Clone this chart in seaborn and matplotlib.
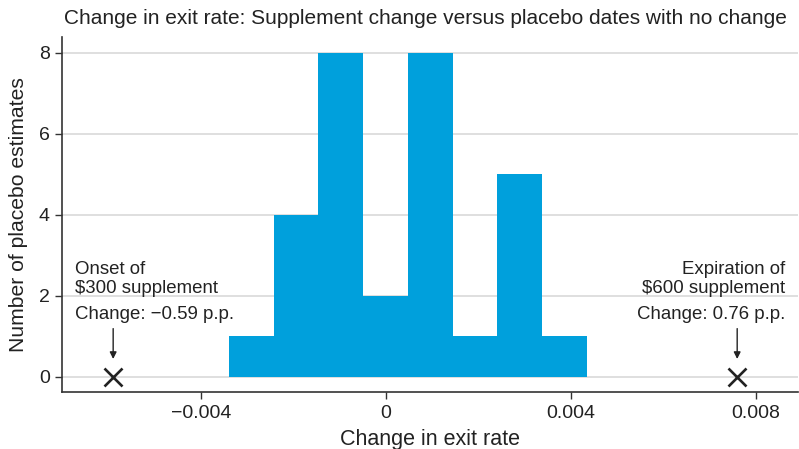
import numpy as np
import pandas as pd
import matplotlib
matplotlib.use('Agg')
import matplotlib.pyplot as plt
import seaborn as sns

# histogram of placebo estimates
bin_lo, bin_hi, n_bins = -0.0034, 0.00435, 8
counts = [1, 4, 8, 2, 8, 1, 5, 1]

# actual supplement changes
event_x = [-0.0059, 0.0076]
event_y = [0, 0]
event_text = ['Onset of\n$300 supplement', 'Expiration of\n$600 supplement']
event_change = ['Change: \u22120.59 p.p.', 'Change: 0.76 p.p.']

x_ticks = [-0.004, 0, 0.004, 0.008]
x_labels = ['\u22120.004', '0', '0.004', '0.008']
y_ticks = [0, 2, 4, 6, 8]

BLUE = '#00A0DC'
DARK = '#333333'
INK = '#222222'

sns.set_style('white')
plt.rcParams['font.family'] = ['Liberation Sans', 'DejaVu Sans']
plt.rcParams['font.size'] = 14

edges = np.linspace(bin_lo, bin_hi, n_bins + 1)
df = pd.DataFrame({'x': (edges[:-1] + edges[1:]) / 2, 'n': counts})

fig = plt.figure(figsize=(7.99, 4.49), dpi=100)
ax = fig.add_axes([0.078, 0.126, 0.921, 0.791])

ax.yaxis.grid(True, color='#D9D9D9', lw=1.2, zorder=0)
ax.set_axisbelow(True)

sns.histplot(data=df, x='x', weights='n', bins=edges.tolist(), color=BLUE, alpha=1,
             linewidth=0, ax=ax, zorder=2)

ax.plot(event_x, event_y, ls='none', marker='x', ms=12.5, mew=1.9,
        color=INK, zorder=3)

# annotations
ax.text(-0.00673, 2.08, event_text[0], ha='left', va='baseline',
        fontsize=13.4, color=INK, linespacing=1.14)
ax.text(-0.00673, 1.42, event_change[0], ha='left', va='baseline',
        fontsize=13.4, color=INK)
ax.text(0.00864, 2.08, event_text[1], ha='right', va='baseline',
        fontsize=13.4, color=INK, linespacing=1.14, multialignment='right')
ax.text(0.00864, 1.42, event_change[1], ha='right', va='baseline',
        fontsize=13.4, color=INK)
for ex in event_x:
    ax.annotate('', xy=(ex, 0.44), xytext=(ex, 1.19),
                arrowprops=dict(arrowstyle='-|>', color=INK, lw=1,
                                mutation_scale=10, shrinkA=0, shrinkB=0))

ax.set_xlim(-0.0070, 0.00892)
ax.set_ylim(-0.385, 8.38)
ax.set_xticks(x_ticks)
ax.set_xticklabels(x_labels)
ax.set_yticks(y_ticks)

for s in ['top', 'right']:
    ax.spines[s].set_visible(False)
for s in ['left', 'bottom']:
    ax.spines[s].set_color(DARK)
    ax.spines[s].set_linewidth(1.2)
ax.tick_params(axis='both', direction='out', length=5, width=1, color=DARK,
               labelsize=14, labelcolor=INK, pad=4, left=True, bottom=True)

ax.set_xlabel('Change in exit rate', fontsize=15.5, color=INK, labelpad=5)
ax.set_ylabel('Number of placebo estimates', fontsize=15.2, color=INK, labelpad=8)
fig.text(0.080, 0.958, 'Change in exit rate: Supplement change versus placebo dates with no change',
         fontsize=15, color=INK, ha='left', va='center')

fig.savefig('out.png', dpi=100)
